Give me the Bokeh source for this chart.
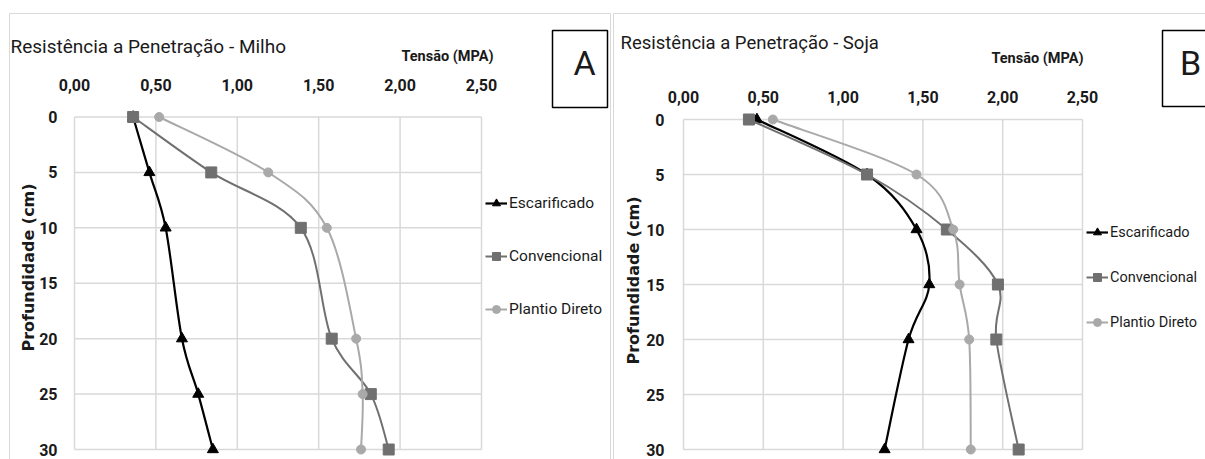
from bokeh.plotting import figure
from bokeh.models import (Range1d, FixedTicker, CustomJSTickFormatter, Label,
                          BoxAnnotation, Legend, LegendItem, ColumnDataSource)
from bokeh.layouts import row
from bokeh.embed import file_html
from bokeh.resources import INLINE

# ---------------- data ----------------
series_names = ["Escarificado", "Convencional", "Plantio Direto"]
x_ticks = [0.0, 0.5, 1.0, 1.5, 2.0, 2.5]
y_ticks = [0, 5, 10, 15, 20, 25, 30]

depth_milho = [0, 5, 10, 20, 25, 30]
milho_escarificado = [0.36, 0.46, 0.56, 0.66, 0.76, 0.85]
milho_convencional = [0.36, 0.84, 1.39, 1.58, 1.82, 1.93]
milho_plantio = [0.52, 1.19, 1.55, 1.73, 1.77, 1.76]

depth_soja = [0, 5, 10, 15, 20, 30]
soja_escarificado = [0.46, 1.15, 1.46, 1.54, 1.41, 1.26]
soja_convencional = [0.41, 1.15, 1.65, 1.97, 1.96, 2.10]
soja_plantio = [0.56, 1.46, 1.69, 1.73, 1.79, 1.80]

title_milho = "Resistência a Penetração - Milho"
title_soja = "Resistência a Penetração - Soja"
x_title = "Tensão (MPA)"
y_title = "Profundidade (cm)"

# ---------------- style ----------------
FONT = "Roboto"
TXT = "#1a1a1a"
COLORS = ["#000000", "#707070", "#a9a9a9"]
MARKERS = ["triangle", "square", "circle"]
MSIZES = [11, 11, 9]
LWIDTHS = [2.2, 2.0, 2.0]
GRID = "#d9d9d9"


def smooth_source(xs, ys, k=1.0 / 6.0):
    """Bezier segments (Excel-like smoothed line) through the data points."""
    n = len(xs)
    d = dict(x0=[], y0=[], x1=[], y1=[], cx0=[], cy0=[], cx1=[], cy1=[])
    for i in range(n - 1):
        xp, yp = (xs[i - 1], ys[i - 1]) if i > 0 else (xs[i], ys[i])
        xn, yn = (xs[i + 2], ys[i + 2]) if i + 2 < n else (xs[i + 1], ys[i + 1])
        d["x0"].append(xs[i]); d["y0"].append(ys[i])
        d["x1"].append(xs[i + 1]); d["y1"].append(ys[i + 1])
        d["cx0"].append(xs[i] + (xs[i + 1] - xp) * k)
        d["cy0"].append(ys[i] + (ys[i + 1] - yp) * k)
        d["cx1"].append(xs[i + 1] - (xn - xs[i]) * k)
        d["cy1"].append(ys[i + 1] - (yn - ys[i]) * k)
    return ColumnDataSource(d)


def canvas_label(p, x, y, text, font, size, weight="normal", align="left", angle=0):
    p.add_layout(Label(x=x, y=y, x_units="canvas", y_units="canvas", text=text,
                       text_font=font, text_font_size=size,
                       text_font_style=weight, text_align=align,
                       text_baseline="middle", text_color=TXT,
                       angle=angle, angle_units="deg"))


def canvas_box(p, box, color, width):
    p.add_layout(BoxAnnotation(left=box[0], right=box[1], top=box[2], bottom=box[3],
                               left_units="canvas", right_units="canvas",
                               top_units="canvas", bottom_units="canvas",
                               fill_alpha=0, line_color=color, line_alpha=1.0,
                               line_width=width))


def make_panel(depth, series, width, height, px_x0, px_x25, px_y0, px_y30,
               xstand, ystand, title, title_xy, title_size, tens_xy, ylab_xy,
               box, letter, letter_xy, legend_loc, legend_spacing, legend_font, frame_box):
    # map the plot area (0..2.5 x 0..30) onto the wanted pixel rectangle
    sx = (px_x25 - px_x0) / (x_ticks[-1] - x_ticks[0])
    sy = (px_y30 - px_y0) / (y_ticks[-1] - y_ticks[0])
    xr = Range1d(x_ticks[0] - px_x0 / sx, x_ticks[-1] + (width - px_x25) / sx)
    yr = Range1d(y_ticks[-1] + (height - px_y30) / sy, y_ticks[0] - px_y0 / sy)

    p = figure(width=width, height=height, x_range=xr, y_range=yr,
               x_axis_location="above", output_backend="svg", toolbar_location=None,
               min_border=0, min_border_left=0, min_border_right=0,
               min_border_top=0, min_border_bottom=0)
    p.background_fill_color = "white"
    p.border_fill_color = "white"
    p.outline_line_color = None
    p.xgrid.visible = False
    p.ygrid.visible = False

    # axes, fixed at the plot-area edges
    p.xaxis.fixed_location = y_ticks[0]
    p.yaxis.fixed_location = x_ticks[0]
    p.xaxis.ticker = FixedTicker(ticks=x_ticks)
    p.xaxis.formatter = CustomJSTickFormatter(code="return tick.toFixed(2).replace('.', ',');")
    p.yaxis.ticker = FixedTicker(ticks=y_ticks)
    for ax, st in ((p.xaxis, xstand), (p.yaxis, ystand)):
        ax.axis_line_color = None
        ax.major_tick_line_color = None
        ax.minor_tick_line_color = None
        ax.major_label_standoff = st
        ax.major_label_text_font = FONT
        ax.major_label_text_font_size = "16px"
        ax.major_label_text_font_style = "bold"
        ax.major_label_text_color = TXT

    # grid lines within the plot area
    ymin, ymax = y_ticks[0], y_ticks[-1]
    xmin, xmax = x_ticks[0], x_ticks[-1]
    p.segment(x0=x_ticks, y0=[ymin] * len(x_ticks), x1=x_ticks, y1=[ymax] * len(x_ticks),
              line_color=GRID, line_width=1.5)
    p.segment(x0=[xmin] * len(y_ticks), y0=y_ticks, x1=[xmax] * len(y_ticks), y1=y_ticks,
              line_color=GRID, line_width=1.5)

    items = []
    for name, vals, c, m, s, lw in zip(series_names, series, COLORS, MARKERS, MSIZES, LWIDTHS):
        src = smooth_source(vals, depth)
        p.bezier(x0="x0", y0="y0", x1="x1", y1="y1", cx0="cx0", cy0="cy0",
                 cx1="cx1", cy1="cy1", source=src, line_color=c, line_width=lw)
        leg_line = p.line(x=vals, y=depth, line_color=c, line_width=lw, visible=False)
        mk = p.scatter(x=vals, y=depth, marker=m, size=s, fill_color=c, line_color=c)
        items.append(LegendItem(label=name, renderers=[leg_line, mk]))

    legend = Legend(items=items, location=legend_loc, orientation="vertical",
                    border_line_color=None, background_fill_alpha=0,
                    inactive_fill_alpha=0,
                    padding=0, margin=0, spacing=legend_spacing,
                    glyph_width=22, glyph_height=20, label_height=20,
                    label_standoff=2, label_text_font=FONT,
                    label_text_font_size=legend_font, label_text_color=TXT)
    p.add_layout(legend)

    canvas_box(p, frame_box, GRID, 1)
    canvas_label(p, title_xy[0], title_xy[1], title, FONT, title_size)
    canvas_label(p, tens_xy[0], tens_xy[1], x_title, FONT, "14.5px", weight="bold", align="right")
    canvas_label(p, ylab_xy[0], ylab_xy[1], y_title, "DejaVu Sans", "16px",
                 weight="bold", align="center", angle=90)
    canvas_box(p, box, "black", 1.5)
    canvas_label(p, letter_xy[0], letter_xy[1], letter, FONT, "34px", align="center")
    return p


left = make_panel(depth_milho, [milho_escarificado, milho_convencional, milho_plantio],
                  width=612, height=459, px_x0=74, px_x25=481, px_y0=116.5, px_y30=449,
                  xstand=20, ystand=11, title=title_milho, title_xy=(10, 46),
                  title_size="19px", tens_xy=(493, 56), ylab_xy=(28, 267),
                  box=(552, 607, 30, 107), letter="A", letter_xy=(584, 62),
                  legend_loc=(485, 140), legend_spacing=33, legend_font="15.5px",
                  frame_box=(9, 610, 13, 600))

right = make_panel(depth_soja, [soja_escarificado, soja_convencional, soja_plantio],
                   width=593, height=459, px_x0=71, px_x25=470, px_y0=119, px_y30=449,
                   xstand=11, ystand=13, title=title_soja, title_xy=(8, 42),
                   title_size="18.5px", tens_xy=(471, 58), ylab_xy=(21, 280),
                   box=(550, 700, 30, 106), letter="B", letter_xy=(578, 62),
                   legend_loc=(474, 127), legend_spacing=25, legend_font="14.5px",
                   frame_box=(1, 700, 13, 600))

layout = row(left, right)
open("out.html", "w").write(file_html(layout, INLINE))
